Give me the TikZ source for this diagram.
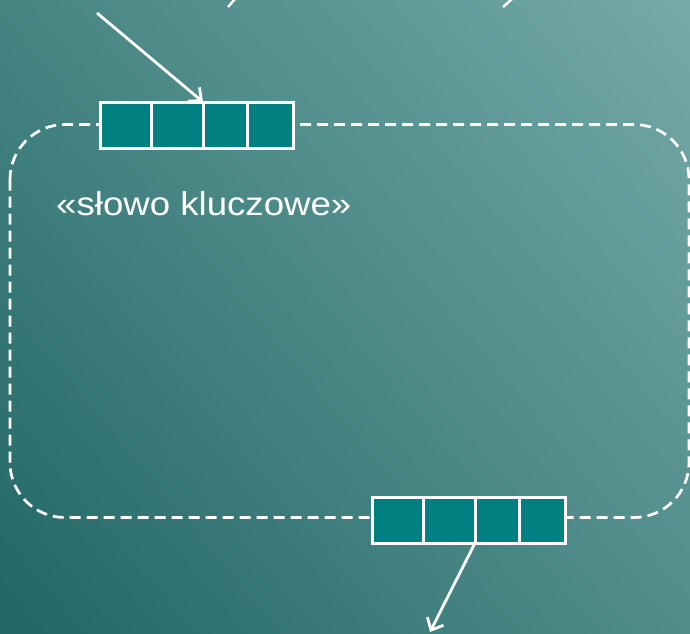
\documentclass[tikz,border=0pt]{standalone}
\usepackage{fontspec}
\setmainfont{Liberation Sans}
\usetikzlibrary{arrows,arrows.meta,positioning,calc}
\definecolor{bgDark}{HTML}{105957}
\definecolor{bgLight}{HTML}{86B8B6}
\definecolor{cellTeal}{HTML}{008080}
\pgfdeclarehorizontalshading{slideBg}{100bp}{color(0bp)=(bgDark); color(100bp)=(bgLight)}
\tikzstyle{cell}    =[draw=white,fill=cellTeal,line width=3pt,minimum height=46pt,inner sep=0pt,outer sep=0pt]
\tikzstyle{boundary}=[draw=white,line width=2.7pt,dash pattern=on 11pt off 6pt,rounded corners=55pt]
\tikzstyle{link}    =[draw=white,line width=2.8pt,-{Straight Barb[length=10pt,width=18pt]}]

\begin{document}
\begin{tikzpicture}[x=1pt,y=-1pt]
\shade[shading=slideBg,shading angle=40] (0,0) rectangle (690,633);
\useasboundingbox (0,0) rectangle (690,633);
% stubs at the top edge
\draw[white,line width=2.5pt] (235,-1) -- (228,7);
\draw[white,line width=2.5pt] (512,-1) -- (503,7);
% dashed frame
\draw[boundary] (10,124.5) rectangle (689,517.5);
% upper box
\node[cell,minimum width=51pt,anchor=west] (t1) at (100,125) {};
\node[cell,minimum width=52pt,right=0pt of t1] (t2) {};
\node[cell,minimum width=44pt,right=0pt of t2] (t3) {};
\node[cell,minimum width=46pt,right=0pt of t3] (t4) {};
% lower box
\node[cell,minimum width=51pt,anchor=west] (b1) at (372,520) {};
\node[cell,minimum width=52pt,right=0pt of b1] (b2) {};
\node[cell,minimum width=44pt,right=0pt of b2] (b3) {};
\node[cell,minimum width=46pt,right=0pt of b3] (b4) {};
\node[anchor=base west,inner sep=0pt,font=\fontsize{33}{38}\selectfont,text=white] (keyword) at (56,215) {\scalebox{1.11}[1]{«słowo kluczowe»}};
\coordinate (inStart) at (97,13);
\coordinate (outEnd) at (430,632);
\draw[link] (inStart) -- (t2.north east);
\draw[link] (b2.south east) -- (outEnd);
\end{tikzpicture}
\end{document}
